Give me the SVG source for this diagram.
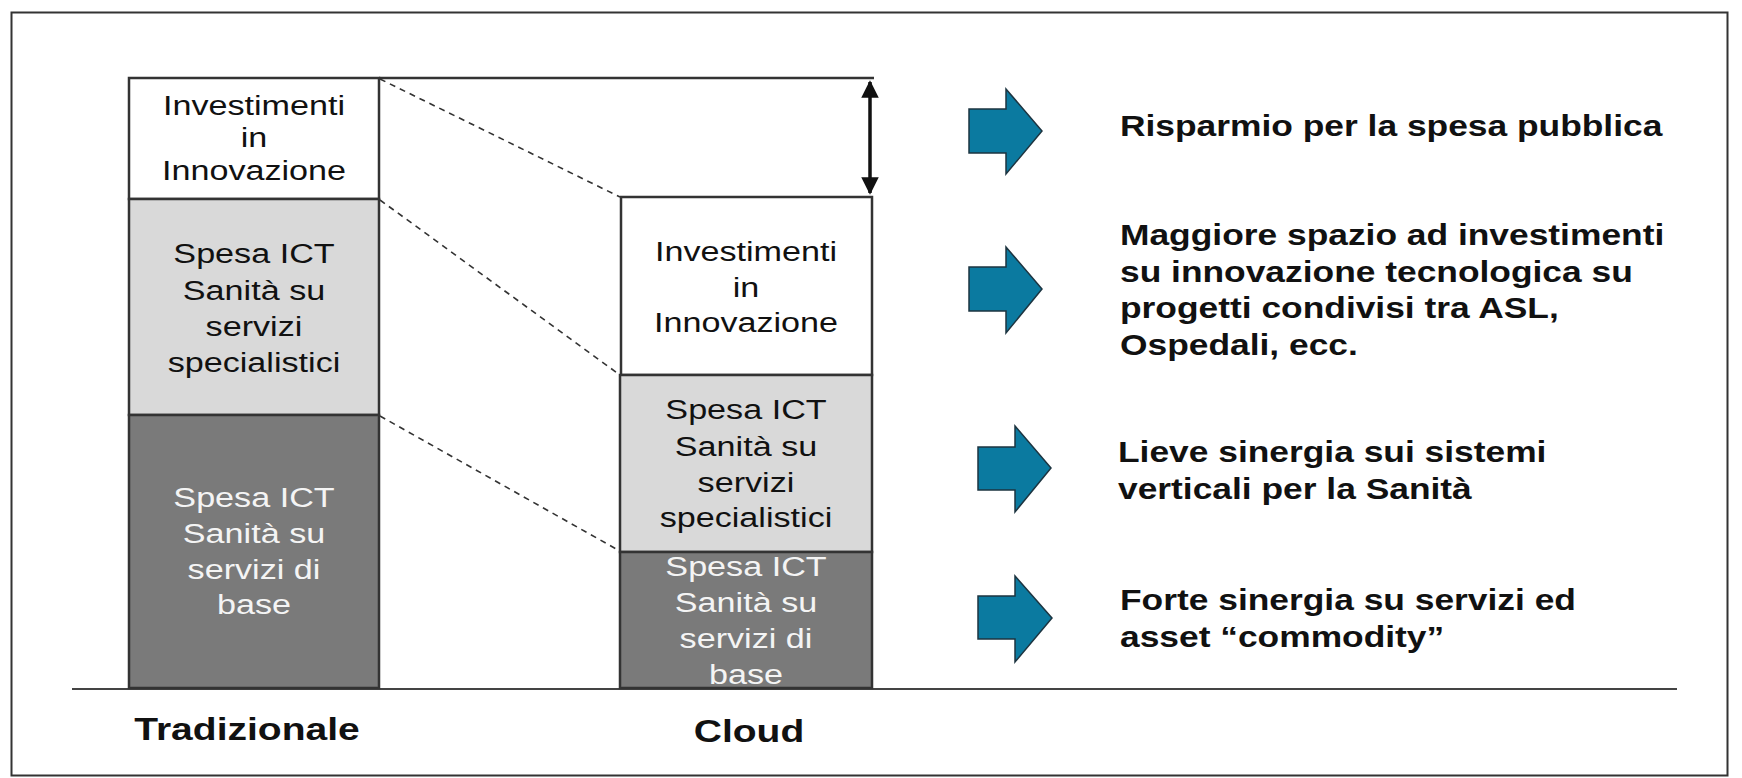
<svg xmlns="http://www.w3.org/2000/svg" width="1742" height="778" viewBox="0 0 1742 778">
<defs>
<marker id="ah" viewBox="0 0 10 10" refX="9" refY="5" markerWidth="5" markerHeight="5" orient="auto-start-reverse" markerUnits="strokeWidth">
<path d="M0,0 L10,5 L0,10 Z" fill="#111"/>
</marker>
<style>
.t{font-family:"Liberation Sans",Arial,sans-serif;font-size:28px;text-anchor:middle}
.dk{fill:#111}
.wt{fill:#f4f4f4}
.r{font-family:"Liberation Sans",Arial,sans-serif;font-size:29px;font-weight:bold;fill:#111}
.lbl{font-family:"Liberation Sans",Arial,sans-serif;font-size:32px;font-weight:bold;fill:#111;text-anchor:middle}
.box{stroke:#333;stroke-width:2.5}
.barrow{fill:#0b7aa0;stroke:#1d3440;stroke-width:1.5;stroke-linejoin:miter}
.dash{stroke:#333;stroke-width:1.6;stroke-dasharray:6 5;fill:none}
</style>
</defs>
<rect width="1742" height="778" fill="#fff"/>
<rect x="11.5" y="12.5" width="1716" height="763" fill="none" stroke="#333" stroke-width="2"/>

<g id="connectors">
<line x1="379" y1="78" x2="874" y2="78" stroke="#333" stroke-width="2.5"/>
<line class="dash" x1="380" y1="79" x2="620" y2="197"/>
<line class="dash" x1="380" y1="200" x2="620" y2="375"/>
<line class="dash" x1="380" y1="416" x2="618" y2="550"/>
<line x1="870" y1="82" x2="870" y2="193" stroke="#111" stroke-width="3.5" marker-start="url(#ah)" marker-end="url(#ah)"/>
<line x1="72" y1="689" x2="1677" y2="689" stroke="#444" stroke-width="2"/>
</g>

<g id="trad-innovazione">
<rect class="box" x="129" y="78" width="250" height="121" fill="#fff"/>
<g transform="translate(254,0) scale(1.22,1)">
<text class="t dk" x="0" y="115">Investimenti</text>
<text class="t dk" x="0" y="147">in</text>
<text class="t dk" x="0" y="180">Innovazione</text>
</g>
</g>
<g id="trad-specialistici">
<rect class="box" x="129" y="199" width="250" height="216" fill="#d9d9d9"/>
<g transform="translate(254,0) scale(1.22,1)">
<text class="t dk" x="0" y="263">Spesa ICT</text>
<text class="t dk" x="0" y="300">Sanità su</text>
<text class="t dk" x="0" y="336">servizi</text>
<text class="t dk" x="0" y="372">specialistici</text>
</g>
</g>
<g id="trad-base">
<rect class="box" x="129" y="415" width="250" height="273" fill="#7a7a7a"/>
<g transform="translate(254,0) scale(1.22,1)">
<text class="t wt" x="0" y="507">Spesa ICT</text>
<text class="t wt" x="0" y="543">Sanità su</text>
<text class="t wt" x="0" y="579">servizi di</text>
<text class="t wt" x="0" y="614">base</text>
</g>
</g>

<g id="cloud-innovazione">
<rect class="box" x="621" y="197" width="251" height="178" fill="#fff"/>
<g transform="translate(746,0) scale(1.22,1)">
<text class="t dk" x="0" y="261">Investimenti</text>
<text class="t dk" x="0" y="297">in</text>
<text class="t dk" x="0" y="332">Innovazione</text>
</g>
</g>
<g id="cloud-specialistici">
<rect class="box" x="620" y="375" width="252" height="177" fill="#d9d9d9"/>
<g transform="translate(746,0) scale(1.22,1)">
<text class="t dk" x="0" y="419">Spesa ICT</text>
<text class="t dk" x="0" y="456">Sanità su</text>
<text class="t dk" x="0" y="492">servizi</text>
<text class="t dk" x="0" y="527">specialistici</text>
</g>
</g>
<g id="cloud-base">
<rect class="box" x="620" y="552" width="252" height="136" fill="#7a7a7a"/>
<g transform="translate(746,0) scale(1.22,1)">
<text class="t wt" x="0" y="576">Spesa ICT</text>
<text class="t wt" x="0" y="612">Sanità su</text>
<text class="t wt" x="0" y="648">servizi di</text>
<text class="t wt" x="0" y="684">base</text>
</g>
</g>

<g id="labels">
<g transform="translate(247,0) scale(1.22,1)"><text class="lbl" x="0" y="740">Tradizionale</text></g>
<g transform="translate(749,0) scale(1.22,1)"><text class="lbl" x="0" y="742">Cloud</text></g>
</g>

<g id="benefit-1">
<polygon class="barrow" points="969,109 1006,109 1006,89 1042,131 1006,174 1006,153 969,153"/>
<g transform="translate(1120,0) scale(1.22,1)">
<text class="r" x="0" y="136">Risparmio per la spesa pubblica</text>
</g>
</g>
<g id="benefit-2">
<polygon class="barrow" points="969,267 1006,267 1006,247 1042,289 1006,333 1006,311 969,311"/>
<g transform="translate(1120,0) scale(1.22,1)">
<text class="r" x="0" y="245">Maggiore spazio ad investimenti</text>
<text class="r" x="0" y="282">su innovazione tecnologica su</text>
<text class="r" x="0" y="318">progetti condivisi tra ASL,</text>
<text class="r" x="0" y="355">Ospedali, ecc.</text>
</g>
</g>
<g id="benefit-3">
<polygon class="barrow" points="978,447 1015,447 1015,426 1051,468 1015,512 1015,490 978,490"/>
<g transform="translate(1118,0) scale(1.22,1)">
<text class="r" x="0" y="462">Lieve sinergia sui sistemi</text>
<text class="r" x="0" y="499">verticali per la Sanità</text>
</g>
</g>
<g id="benefit-4">
<polygon class="barrow" points="978,596 1015,596 1015,576 1052,618 1015,662 1015,639 978,639"/>
<g transform="translate(1120,0) scale(1.22,1)">
<text class="r" x="0" y="610">Forte sinergia su servizi ed</text>
<text class="r" x="0" y="647">asset “commodity”</text>
</g>
</g>
</svg>
